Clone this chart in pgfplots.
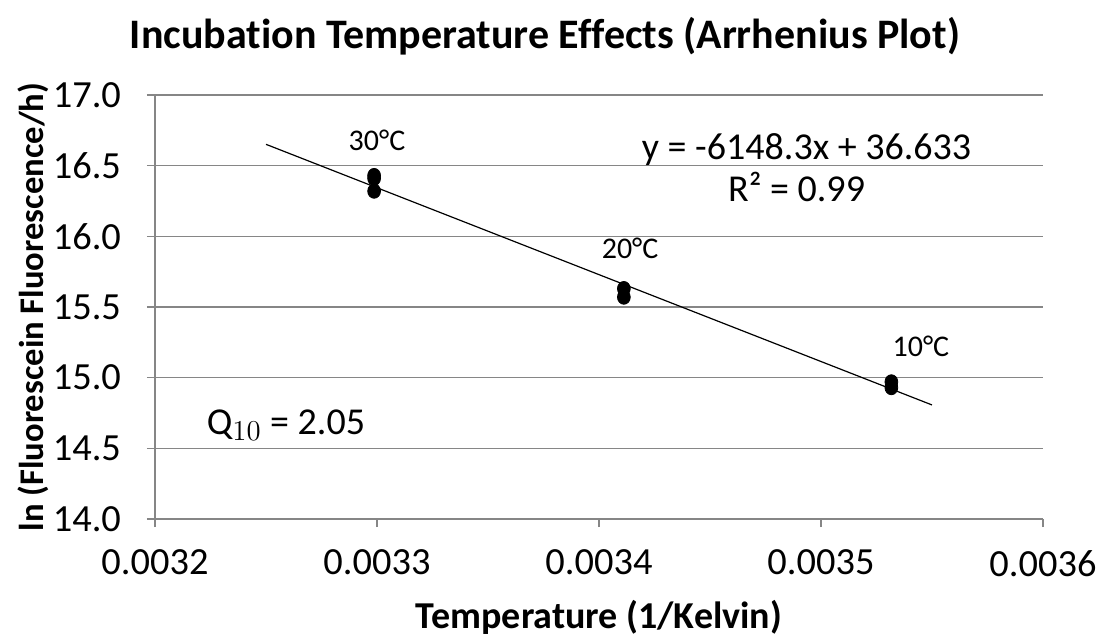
\documentclass[border=0pt]{standalone}
\usepackage{fontspec}
\setmainfont{Carlito}[Ligatures={NoCommon}]
\usepackage{pgfplots}
\pgfplotsset{compat=1.18}
\definecolor{gridgray}{RGB}{134,134,134}
\begin{document}
\begin{tikzpicture}
\begin{axis}[
  at={(0,0)}, anchor=south west,
  scale only axis, width=444pt, height=212pt,
  xmin=0.0032, xmax=0.0036, ymin=14, ymax=17,
  xtick={0.0032,0.0033,0.0034,0.0035,0.0036},
  xticklabels={0.0032,0.0033,0.0034,0.0035,0.0036},
  ytick={14,14.5,15,15.5,16,16.5,17},
  yticklabel style={/pgf/number format/fixed,/pgf/number format/fixed zerofill,/pgf/number format/precision=1, xshift=-9.5pt},
  /pgf/number format/assume math mode=true,
  scaled x ticks=false,
  axis lines*=left,
  axis line style={gridgray, line width=0.6pt},
  tick style={gridgray, line width=0.6pt},
  tick align=outside, major tick length=4pt,
  ymajorgrids, major grid style={gridgray, line width=0.6pt},
  ticklabel style={font=\fontsize{19.2}{23}\selectfont, text=black},
  xticklabel style={yshift=-8pt},
  xlabel={\bfseries Temperature (1/Kelvin)},
  ylabel={\bfseries ln (Fluorescein Fluorescence/h)},
  xlabel style={font=\fontsize{19}{23}\selectfont, at={(axis description cs:0.5,-0.231)}, anchor=center},
  ylabel style={font=\fontsize{17.3}{21}\selectfont, at={(axis description cs:-0.137,0.5)}, anchor=center},
  clip=false,
]
\addplot[black, line width=0.6pt] coordinates {(0.00325,16.651) (0.00355,14.807)};
\addplot[only marks, mark=*, mark size=3.2pt, black, mark options={yscale=1.12}] coordinates {
  (0.0032987,16.43) (0.0032987,16.41) (0.0032987,16.32)
  (0.0034112,15.63) (0.0034112,15.57)
  (0.0035317,14.97) (0.0035317,14.93)
};
\node[font=\fontsize{15}{18}\selectfont] at (axis cs:0.0033,16.68) {30°C};
\node[font=\fontsize{15}{18}\selectfont] at (axis cs:0.003414,15.917) {20°C};
\node[font=\fontsize{15}{18}\selectfont] at (axis cs:0.003545,15.224) {10°C};
\node[font=\fontsize{19}{23}\selectfont] at (axis cs:0.0034935,16.611) {y = -6148.3x + 36.633};
\node[font=\fontsize{19}{23}\selectfont] at (axis cs:0.003489,16.349) {R² = 0.99};
\node[font=\fontsize{19}{23}\selectfont] at (axis cs:0.003259,14.665) {Q$_{10}$ = 2.05};
\end{axis}
\node[font=\fontsize{21}{25}\selectfont\bfseries, anchor=base] at (195pt,235pt) {Incubation Temperature Effects (Arrhenius Plot)};
\pgfresetboundingbox
\path (-77.5pt,-59.5pt) rectangle (470.5pt,259.5pt);
\end{tikzpicture}
\end{document}
